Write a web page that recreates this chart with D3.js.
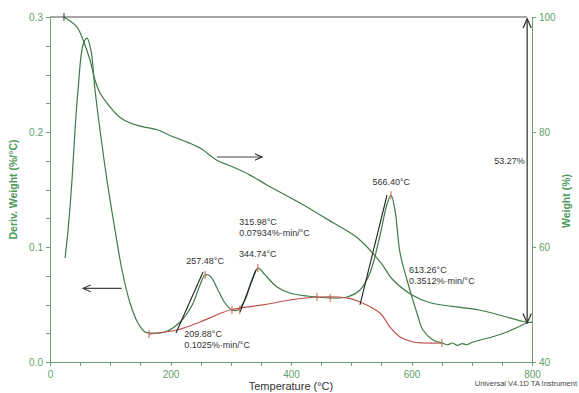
<!DOCTYPE html>
<head>
    <meta charset="utf-8" />
    <title>TGA / DTG</title>
</head>
<style>
    body {
        margin: 0;
        background-color: #ffffff;
    }
    svg text {
        font-family: Arial, "Liberation Sans", sans-serif;
    }
    .axis path,
    .axis line {
        fill: none;
        stroke: #6f9f7c;
        stroke-width: 1px;
        shape-rendering: crispEdges;
    }
    .axis text {
        fill: #5f9f6a;
        font-size: 10px;
    }
    .curve {
        fill: none;
        stroke: #3f7a48;
        stroke-width: 1.2px;
    }
    .base {
        fill: none;
        stroke: #c0504d;
        stroke-width: 1.2px;
    }
    .note {
        fill: #333333;
        font-size: 9px;
    }
</style>
<body>
    <svg id="chart" width="579" height="393"></svg>
    <script src="https://d3js.org/d3.v7.min.js"></script>
    <script>
        // derivative weight curve (%/°C) vs temperature
        var derivTemp = [25, 30, 36.5, 41.5, 46.5, 54.8, 61.4, 68, 74.7, 83, 94.6, 107.9, 119.5, 132.8, 146, 157.7, 166, 191, 216, 236, 249, 257.3, 265.6, 278.8, 290.5, 302, 312, 323.7, 335, 345.2, 357, 376.8, 398, 426.6, 443, 464.7, 493, 514.5, 531, 547.7, 559, 566, 572.6, 581, 592.5, 600.8, 609, 619, 635.7, 650.6, 660, 668, 676, 684, 692, 700, 714, 735, 758.5, 775, 791.7, 800];
        var derivVal = [0.0904, 0.1148, 0.158, 0.2017, 0.2365, 0.2757, 0.2817, 0.271, 0.2365, 0.2017, 0.158, 0.1148, 0.08, 0.0513, 0.0339, 0.0261, 0.0252, 0.0261, 0.0348, 0.0496, 0.067, 0.0757, 0.0748, 0.0626, 0.0513, 0.0452, 0.0452, 0.054, 0.0713, 0.0817, 0.0757, 0.0652, 0.06, 0.0574, 0.0565, 0.0557, 0.0565, 0.0626, 0.0774, 0.11, 0.1365, 0.145, 0.132, 0.0948, 0.0713, 0.0565, 0.0426, 0.0278, 0.0191, 0.0165, 0.0150, 0.0165, 0.0145, 0.0160, 0.0150, 0.0170, 0.0191, 0.0220, 0.0261, 0.0300, 0.0339, 0.0348];

        // weight curve (%) vs temperature
        var weightTemp = [23.2, 44.8, 54.8, 66.4, 74.7, 83, 99.6, 111, 124, 138, 155, 178, 199.2, 224, 249, 277, 304, 332, 360, 415, 470, 510, 548, 569, 601, 631, 714, 792, 800];
        var weightVal = [100, 98.26, 96.0, 92.52, 89.04, 86.78, 84.35, 83.0, 82.0, 81.4, 80.9, 80.4, 79.4, 78.4, 77.2, 75.1, 73.9, 72.5, 70.8, 67.65, 64.2, 61.6, 57.4, 54.3, 51.65, 50.3, 49.0, 46.9, 46.9];

        // integration baseline under the DTG peaks
        var baseTemp = [164.3, 210.8, 249, 298.8, 353.5, 398.3, 443, 493, 514.5, 547.7, 564.3, 581, 602.5, 650.6];
        var baseVal = [0.0243, 0.0278, 0.0348, 0.0452, 0.0496, 0.0539, 0.0565, 0.0557, 0.0522, 0.0426, 0.0304, 0.0217, 0.0174, 0.0165];

        // onset tangent lines [t1, d1, t2, d2]
        var tangents = [
            [209.1, 0.0252, 254, 0.0783],
            [315.4, 0.0435, 342, 0.080],
            [514.5, 0.0496, 559.3, 0.145]
        ];

        // small marker ticks on the DTG curve
        var markTemp = [164.3, 257.5, 302, 315, 345, 443, 465, 566, 650.6];
        var markVal = [0.0243, 0.0757, 0.0452, 0.0452, 0.0817, 0.0565, 0.0557, 0.145, 0.0165];

        var notes = [
            { t: 257.48, d: 0.0855, txt: "257.48°C", anchor: "middle" },
            { t: 344.74, d: 0.0915, txt: "344.74°C", anchor: "middle" },
            { t: 223, d: 0.0218, txt: "209.88°C", anchor: "start" },
            { t: 223, d: 0.0122, txt: "0.1025%·min/°C", anchor: "start" },
            { t: 566.4, d: 0.1535, txt: "566.40°C", anchor: "middle" }
        ];
        var notesW = [
            { t: 314, w: 63.8, txt: "315.98°C", anchor: "start" },
            { t: 314, w: 62.0, txt: "0.07934%·min/°C", anchor: "start" },
            { t: 596, w: 55.5, txt: "613.26°C", anchor: "start" },
            { t: 596, w: 53.6, txt: "0.3512%·min/°C", anchor: "start" },
            { t: 788, w: 74.5, txt: "53.27%", anchor: "end" }
        ];

        var svg = d3.select("#chart");

        var x = d3.scaleLinear().domain([0, 800]).range([50, 532]);
        var yL = d3.scaleLinear().domain([0, 0.3]).range([362, 17]);
        var yR = d3.scaleLinear().domain([40, 100]).range([362, 17]);

        // axes
        var xMinor = d3.range(0, 801, 50);
        svg.append("g")
            .attr("class", "axis")
            .attr("transform", "translate(0,362)")
            .call(d3.axisBottom(x).tickValues(xMinor).tickSizeInner(4).tickSizeOuter(0)
                .tickFormat(function(d) { return d % 200 === 0 ? d : ""; }))
            .selectAll("text").attr("fill", "#444").attr("dy", "0.9em");

        svg.append("g")
            .attr("class", "axis")
            .attr("transform", "translate(50,0)")
            .call(d3.axisLeft(yL).tickValues(d3.range(0, 0.3001, 0.025)).tickSizeInner(4).tickSizeOuter(0)
                .tickFormat(function(d) {
                    var r = Math.round(d * 1000);
                    return r % 100 === 0 ? d3.format(".1f")(d) : "";
                }));

        svg.append("g")
            .attr("class", "axis")
            .attr("transform", "translate(532,0)")
            .call(d3.axisRight(yR).tickValues([40, 60, 80, 100]).tickSizeInner(4).tickSizeOuter(0));

        // top frame line
        svg.append("line")
            .attr("x1", x(0)).attr("x2", x(792))
            .attr("y1", yR(100)).attr("y2", yR(100))
            .attr("stroke", "#8a8a8a").attr("stroke-width", 1.5);

        // axis titles
        svg.append("text")
            .attr("transform", "translate(17," + yL(0.15) + ") rotate(-90)")
            .attr("text-anchor", "middle")
            .attr("fill", "#4f9a5c")
            .attr("font-size", "10.5px")
            .attr("font-weight", "bold")
            .text("Deriv. Weight (%/°C)");

        svg.append("text")
            .attr("transform", "translate(570," + yR(68) + ") rotate(-90)")
            .attr("text-anchor", "middle")
            .attr("fill", "#4f9a5c")
            .attr("font-size", "10.5px")
            .attr("font-weight", "bold")
            .text("Weight (%)");

        svg.append("text")
            .attr("x", x(400)).attr("y", 390)
            .attr("text-anchor", "middle")
            .attr("fill", "#333")
            .attr("font-size", "11px")
            .text("Temperature (°C)");

        svg.append("text")
            .attr("x", 577).attr("y", 386)
            .attr("text-anchor", "end")
            .attr("fill", "#444")
            .attr("font-size", "7.5px")
            .text("Universal V4.1D TA Instrument");

        // curves
        var derivLine = d3.line()
            .x(function(d, i) { return x(derivTemp[i]); })
            .y(function(d, i) { return yL(derivVal[i]); })
            .curve(d3.curveCatmullRom.alpha(0.5));
        svg.append("path").attr("class", "curve").attr("d", derivLine(derivTemp));

        var weightLine = d3.line()
            .x(function(d, i) { return x(weightTemp[i]); })
            .y(function(d, i) { return yR(weightVal[i]); })
            .curve(d3.curveCatmullRom.alpha(0.5));
        svg.append("path").attr("class", "curve").attr("d", weightLine(weightTemp));

        var baseLine = d3.line()
            .x(function(d, i) { return x(baseTemp[i]); })
            .y(function(d, i) { return yL(baseVal[i]); })
            .curve(d3.curveCatmullRom.alpha(0.5));
        svg.append("path").attr("class", "base").attr("d", baseLine(baseTemp));

        // tangents
        svg.selectAll(".tan")
            .data(tangents)
            .enter().append("line")
            .attr("class", "tan")
            .attr("x1", function(d) { return x(d[0]); })
            .attr("y1", function(d) { return yL(d[1]); })
            .attr("x2", function(d) { return x(d[2]); })
            .attr("y2", function(d) { return yL(d[3]); })
            .attr("stroke", "#222")
            .attr("stroke-width", 1.1);

        // markers
        svg.selectAll(".mark")
            .data(markTemp)
            .enter().append("line")
            .attr("class", "mark")
            .attr("x1", function(d) { return x(d); })
            .attr("x2", function(d) { return x(d); })
            .attr("y1", function(d, i) { return yL(markVal[i]) - 4; })
            .attr("y2", function(d, i) { return yL(markVal[i]) + 4; })
            .attr("stroke", "#d0603a")
            .attr("stroke-width", 1);

        // start marker on weight curve
        svg.append("line")
            .attr("x1", x(23.2)).attr("x2", x(23.2))
            .attr("y1", yR(100) - 4).attr("y2", yR(100) + 4)
            .attr("stroke", "#333");

        // arrows
        var defs = svg.append("defs");
        defs.append("marker")
            .attr("id", "head")
            .attr("viewBox", "0 0 10 10")
            .attr("refX", 9).attr("refY", 5)
            .attr("markerWidth", 7).attr("markerHeight", 7)
            .attr("orient", "auto-start-reverse")
            .append("path")
            .attr("d", "M0,1 L9,5 L0,9")
            .attr("fill", "none")
            .attr("stroke", "#333")
            .attr("stroke-width", 1.2);

        svg.append("line")
            .attr("x1", x(119)).attr("x2", x(55))
            .attr("y1", yL(0.064)).attr("y2", yL(0.064))
            .attr("stroke", "#444").attr("stroke-width", 1.2)
            .attr("marker-end", "url(#head)");

        svg.append("line")
            .attr("x1", x(277)).attr("x2", x(352))
            .attr("y1", yR(75.65)).attr("y2", yR(75.65))
            .attr("stroke", "#444").attr("stroke-width", 1.2)
            .attr("marker-end", "url(#head)");

        svg.append("line")
            .attr("x1", x(792)).attr("x2", x(792))
            .attr("y1", yR(46.8)).attr("y2", yR(99.7))
            .attr("stroke", "#555").attr("stroke-width", 1.5)
            .attr("marker-start", "url(#head)")
            .attr("marker-end", "url(#head)");

        // annotations
        svg.selectAll(".nd")
            .data(notes)
            .enter().append("text")
            .attr("class", "note")
            .attr("x", function(d) { return x(d.t); })
            .attr("y", function(d) { return yL(d.d); })
            .attr("text-anchor", function(d) { return d.anchor; })
            .text(function(d) { return d.txt; });

        svg.selectAll(".nw")
            .data(notesW)
            .enter().append("text")
            .attr("class", "note")
            .attr("x", function(d) { return x(d.t); })
            .attr("y", function(d) { return yR(d.w); })
            .attr("text-anchor", function(d) { return d.anchor; })
            .text(function(d) { return d.txt; });
    </script>
</body>
